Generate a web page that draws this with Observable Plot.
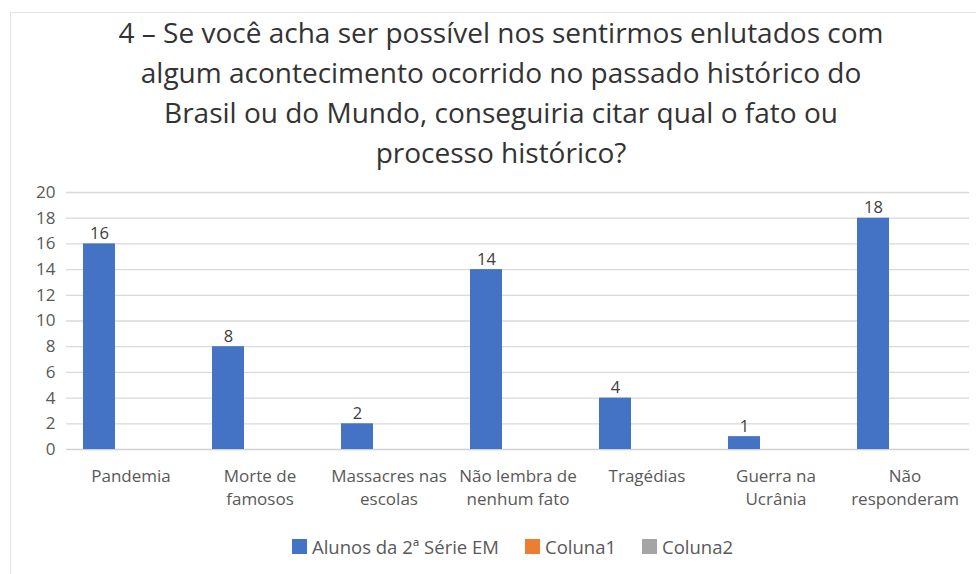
<!DOCTYPE html>
<html>
<head>
<meta charset="utf-8">
<script src="https://cdn.jsdelivr.net/npm/d3@7"></script>
<script src="https://cdn.jsdelivr.net/npm/@observablehq/plot@0.6"></script>
<style>
  html, body { margin: 0; padding: 0; background: #fff; }
  body { width: 976px; height: 574px; position: relative; overflow: hidden; font-family: "Open Sans", "Noto Sans", sans-serif; }
  #frame { position: absolute; left: 10px; top: 12px; width: 980px; height: 600px; border-left: 1px solid #e4e4e4; border-top: 1px solid #e4e4e4; }
  #title { position: absolute; left: 0; top: 12px; width: 1002px; text-align: center; font-size: 28px; line-height: 40px; color: #333; }
  #chart { position: absolute; left: 0; top: 173px; }
  #legend { position: absolute; left: 0; top: 534px; width: 1025px; display: flex; justify-content: center; gap: 26px; font-size: 18.5px; color: #595959; }
  #legend span.item { display: flex; align-items: center; gap: 5px; }
  #legend i { display: inline-block; width: 15px; height: 15px; }
</style>
</head>
<body>
<div id="frame"></div>
<div id="title">4 – Se você acha ser possível nos sentirmos enlutados com<br>algum acontecimento ocorrido no passado histórico do<br>Brasil ou do Mundo, conseguiria citar qual o fato ou<br>processo histórico?</div>
<div id="chart"></div>
<div id="legend"></div>
<script>
const categories = ["Pandemia", "Morte de\nfamosos", "Massacres nas\nescolas", "Não lembra de\nnenhum fato", "Tragédias", "Guerra na\nUcrânia", "Não\nresponderam"];
const seriesNames = ["Alunos da 2ª Série EM", "Coluna1", "Coluna2"];
const seriesColors = ["#4472C4", "#ED7D31", "#A5A5A5"];
const alunos = [16, 8, 2, 14, 4, 1, 18];
const coluna1 = [null, null, null, null, null, null, null];
const coluna2 = [null, null, null, null, null, null, null];
const yTicks = [0, 2, 4, 6, 8, 10, 12, 14, 16, 18, 20];

const seriesValues = [alunos, coluna1, coluna2];
const data = [];
categories.forEach((c, i) => {
  seriesNames.forEach((s, j) => {
    data.push({category: c, series: s, value: seriesValues[j][i]});
  });
});
const filled = data.filter(d => d.value != null);

const chart = Plot.plot({
  width: 976,
  height: 345,
  marginLeft: 65,
  marginRight: 6,
  marginTop: 19,
  marginBottom: 69,
  style: {fontFamily: "'Open Sans', 'Noto Sans', sans-serif", fontSize: "16px", color: "#595959", background: "transparent"},
  fx: {domain: categories, padding: 0, label: null},
  x: {domain: seriesNames, paddingInner: 0, paddingOuter: 0.5, axis: null},
  y: {domain: [0, 20], label: null},
  color: {domain: seriesNames, range: seriesColors},
  marks: [
    Plot.ruleY(yTicks.filter(t => t > 0), {stroke: "#d9d9d9", strokeWidth: 1.3}),
    Plot.ruleY([0], {stroke: "#d0d0d0", strokeWidth: 1.3}),
    Plot.axisY({ticks: yTicks, tickSize: 0, tickPadding: 11, fontSize: 17, fill: "#595959", label: null}),
    Plot.axisFx({anchor: "bottom", tickSize: 0, tickPadding: 16, fontSize: 17, lineHeight: 1.35, fill: "#595959", label: null}),
    Plot.barY(filled, {fx: "category", x: "series", y: "value", fill: "series", inset: 0}),
    Plot.text(filled, {fx: "category", x: "series", y: "value", text: d => String(d.value), lineAnchor: "bottom", dy: -5, fill: "#404040", fontSize: 16.5})
  ]
});
document.getElementById("chart").appendChild(chart);

const legend = document.getElementById("legend");
seriesNames.forEach((s, j) => {
  const item = document.createElement("span");
  item.className = "item";
  const sw = document.createElement("i");
  sw.style.background = seriesColors[j];
  item.appendChild(sw);
  item.appendChild(document.createTextNode(s));
  legend.appendChild(item);
});
</script>
</body>
</html>
